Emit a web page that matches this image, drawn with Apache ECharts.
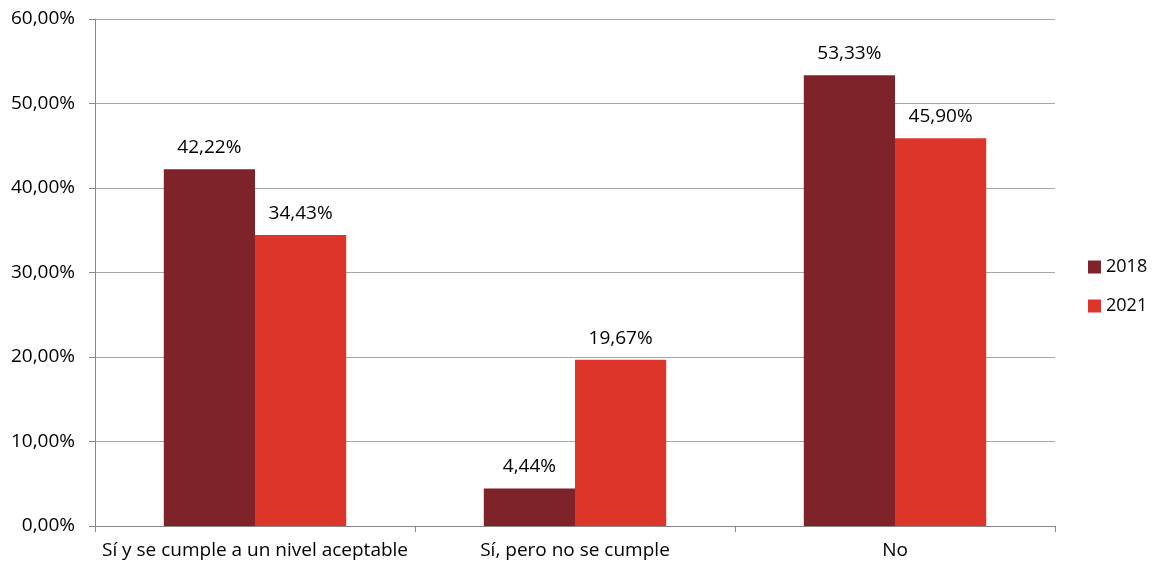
<!DOCTYPE html>
<html>
<head>
<meta charset="utf-8">
<script src="https://cdn.jsdelivr.net/npm/echarts@6/dist/echarts.min.js"></script>
<style>
  html, body { margin: 0; padding: 0; background: #fff; }
  #chart { width: 1152px; height: 565px; }
</style>
</head>
<body>
<div id="chart"></div>
<script>
// Response categories and shares per survey year (percent)
const categories = ['Sí y se cumple a un nivel aceptable', 'Sí, pero no se cumple', 'No'];
const values2018 = [42.22, 4.44, 53.33];
const values2021 = [34.43, 19.67, 45.90];
const seriesNames = ['2018', '2021'];

const fontFamily = '"Open Sans", "Noto Sans", sans-serif';
const fontSize = 19;
const fmtPct = v => v.toFixed(2).replace('.', ',') + '%';

const chart = echarts.init(document.getElementById('chart'));

const labelStyle = {
  show: true,
  position: 'top',
  distance: 12,
  color: '#000',
  fontFamily: fontFamily,
  fontSize: fontSize,
  formatter: p => fmtPct(p.value)
};

chart.setOption({
  animation: false,
  textStyle: { fontFamily: fontFamily },
  grid: { left: 95, right: 97, top: 19, bottom: 39, containLabel: false },
  legend: {
    orient: 'vertical',
    left: 1088,
    top: 258,
    padding: 0,
    itemWidth: 13,
    itemHeight: 13,
    itemGap: 21,
    icon: 'rect',
    textStyle: { fontFamily: fontFamily, fontSize: 18, color: '#000' },
    data: seriesNames
  },
  xAxis: {
    type: 'category',
    data: categories,
    axisLine: { lineStyle: { color: '#888', width: 1 } },
    axisTick: { show: true, length: 6, lineStyle: { color: '#888' } },
    axisLabel: { interval: 0, color: '#000', fontSize: fontSize, fontFamily: fontFamily, margin: 15 }
  },
  yAxis: {
    type: 'value',
    min: 0,
    max: 60,
    interval: 10,
    axisLine: { show: true, lineStyle: { color: '#888', width: 1 } },
    axisTick: { show: true, length: 6, lineStyle: { color: '#888' } },
    axisLabel: {
      color: '#000', fontSize: fontSize, fontFamily: fontFamily, margin: 20,
      formatter: v => fmtPct(v)
    },
    splitLine: { lineStyle: { color: '#A6A6A6', width: 1 } }
  },
  series: [
    {
      name: seriesNames[0],
      type: 'bar',
      data: values2018,
      barGap: '0%',
      barCategoryGap: '43%',
      itemStyle: { color: '#7F232A' },
      label: labelStyle
    },
    {
      name: seriesNames[1],
      type: 'bar',
      data: values2021,
      barGap: '0%',
      barCategoryGap: '43%',
      itemStyle: { color: '#DE352B' },
      label: labelStyle
    }
  ]
});
</script>
</body>
</html>
